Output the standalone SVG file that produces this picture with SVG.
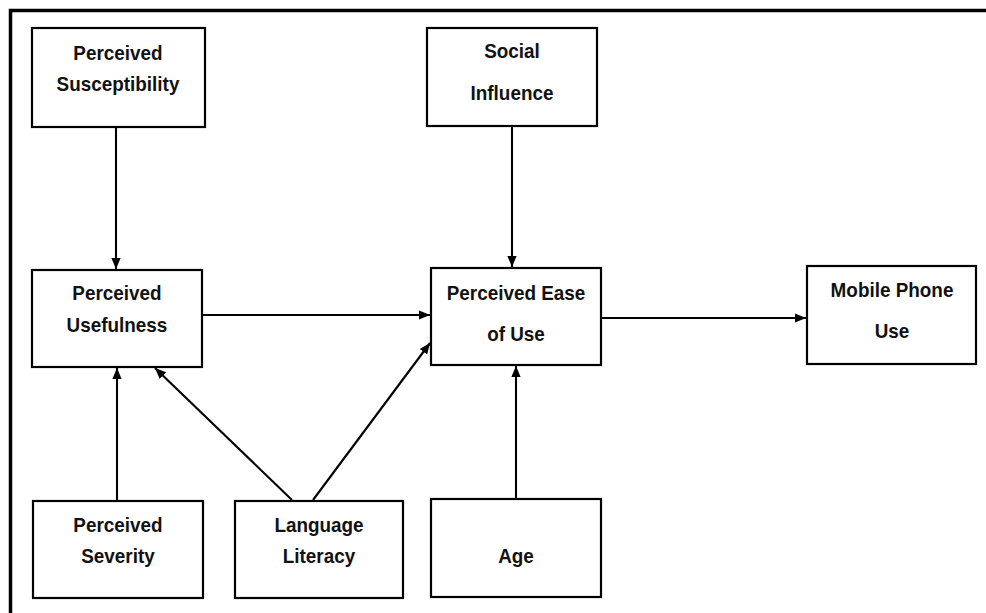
<svg xmlns="http://www.w3.org/2000/svg" width="986" height="613" viewBox="0 0 986 613">
  <style>
    .box { fill: #ffffff; stroke: #000000; stroke-width: 2.2; }
    .lbl { font-family: "Liberation Sans", Arial, sans-serif; font-weight: bold; font-size: 21px; fill: #111111; text-anchor: middle;
           transform-box: fill-box; transform-origin: center; transform: scaleX(0.9); }
    .edge { stroke: #000000; stroke-width: 2.1; fill: none; marker-end: url(#arrow); }
    .frame { stroke: #000000; stroke-width: 3.5; fill: none; }
  </style>
  <defs>
    <marker id="arrow" viewBox="0 0 10 10" refX="10" refY="5" markerWidth="11" markerHeight="11" markerUnits="userSpaceOnUse" orient="auto">
      <path d="M0,0.8 L10,5 L0,9.2 Z" fill="#000000"/>
    </marker>
  </defs>

  <rect x="0" y="0" width="986" height="613" fill="#ffffff"/>

  <!-- outer frame: top and left rules only -->
  <path class="frame" d="M10.5,613 L10.5,10.5 L986,10.5"/>

  <g id="connectors">
    <line class="edge" x1="116" y1="128" x2="116" y2="269"/>
    <line class="edge" x1="203" y1="315" x2="430" y2="315"/>
    <line class="edge" x1="117" y1="501" x2="117" y2="368"/>
    <line class="edge" x1="292" y1="500" x2="155" y2="368"/>
    <line class="edge" x1="313" y1="500" x2="430" y2="343"/>
    <line class="edge" x1="512" y1="127" x2="512" y2="267"/>
    <line class="edge" x1="516" y1="498" x2="516" y2="366"/>
    <line class="edge" x1="602" y1="318" x2="806" y2="318"/>
  </g>

  <g id="perceived-susceptibility">
    <rect class="box" x="32" y="28" width="173" height="99"/>
    <text class="lbl" x="118" y="60">Perceived</text>
    <text class="lbl" x="118" y="91">Susceptibility</text>
  </g>

  <g id="social-influence">
    <rect class="box" x="427" y="28" width="170" height="98"/>
    <text class="lbl" x="512" y="58">Social</text>
    <text class="lbl" x="512" y="100">Influence</text>
  </g>

  <g id="perceived-usefulness">
    <rect class="box" x="32" y="270" width="170" height="97"/>
    <text class="lbl" x="117" y="300">Perceived</text>
    <text class="lbl" x="117" y="332">Usefulness</text>
  </g>

  <g id="perceived-ease-of-use">
    <rect class="box" x="431" y="268" width="170" height="97"/>
    <text class="lbl" x="516" y="300">Perceived Ease</text>
    <text class="lbl" x="516" y="341">of Use</text>
  </g>

  <g id="mobile-phone-use">
    <rect class="box" x="807" y="266" width="169" height="98"/>
    <text class="lbl" x="892" y="297">Mobile Phone</text>
    <text class="lbl" x="892" y="338">Use</text>
  </g>

  <g id="perceived-severity">
    <rect class="box" x="33" y="501" width="170" height="97"/>
    <text class="lbl" x="118" y="532">Perceived</text>
    <text class="lbl" x="118" y="563">Severity</text>
  </g>

  <g id="language-literacy">
    <rect class="box" x="235" y="501" width="168" height="97"/>
    <text class="lbl" x="319" y="532">Language</text>
    <text class="lbl" x="319" y="563">Literacy</text>
  </g>

  <g id="age">
    <rect class="box" x="431" y="499" width="170" height="98"/>
    <text class="lbl" x="516" y="563">Age</text>
  </g>
</svg>
